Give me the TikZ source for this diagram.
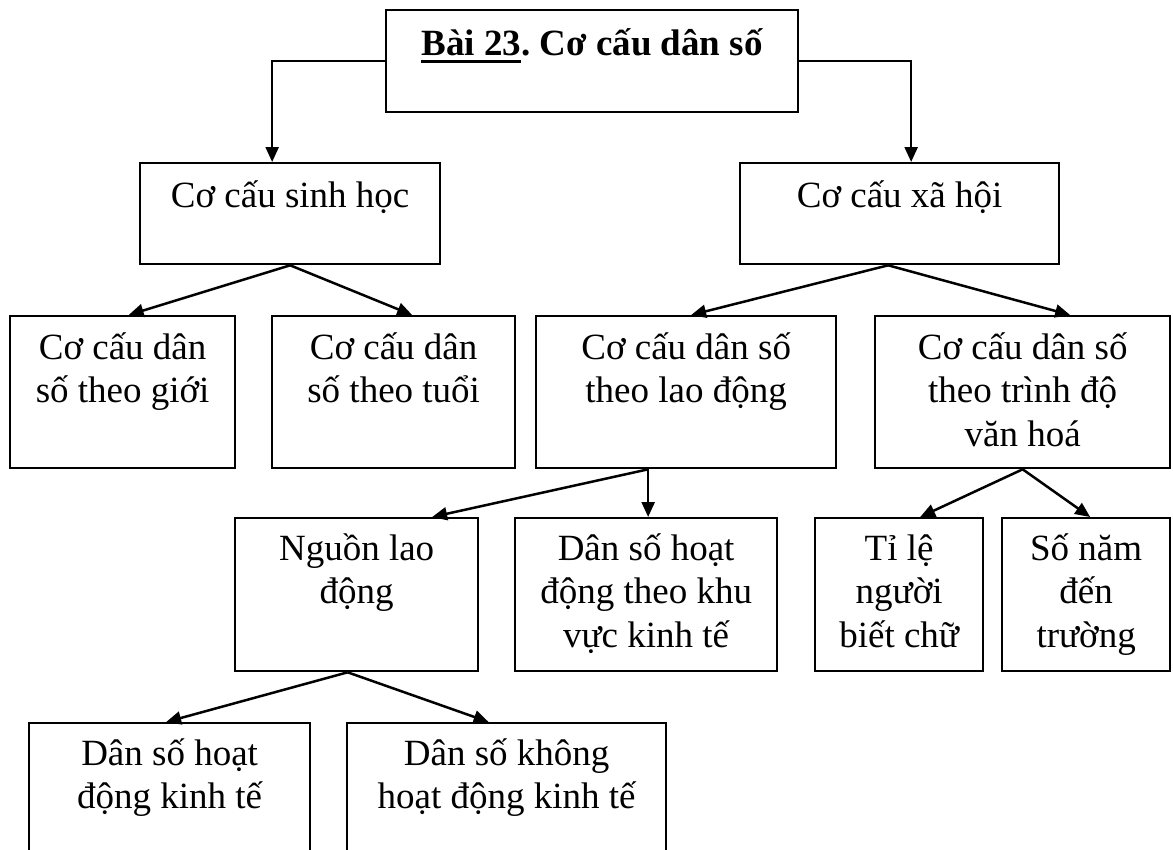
\documentclass[tikz,border=0pt]{standalone}
\usepackage{fontspec}
\setmainfont{Liberation Serif}
\usetikzlibrary{arrows.meta}
\tikzset{
  box/.style={draw, line width=2.3pt, inner sep=0pt, anchor=north west},
  lbl/.style={inner sep=0pt, anchor=north, align=center,
              font=\fontsize{37}{43.5}\selectfont},
  arr/.style={line width=2.5pt, -{Triangle[length=15pt,width=13pt]}},
}
\newcommand{\tl}{\rule{0pt}{38pt}}
% thick underline set a little below the baseline
\newcommand{\thickul}[1]{\setbox0\hbox{#1}\rlap{\rule[-8pt]{\wd0}{3.5pt}}\box0}
\frenchspacing
\begin{document}
\begin{tikzpicture}[x=1pt,y=-1pt]
\useasboundingbox (0,0) rectangle (1173,849);
\clip (0,0) rectangle (1173,849);
% boxes
\node[box, minimum width=412, minimum height=102] (top) at (385,9) {};
\node[box, minimum width=300, minimum height=101] (sh) at (139,162) {};
\node[box, minimum width=319, minimum height=101] (xh) at (739,162) {};
\node[box, minimum width=225, minimum height=152] (gioi) at (9,315) {};
\node[box, minimum width=243, minimum height=152] (tuoi) at (271,315) {};
\node[box, minimum width=300, minimum height=152] (ld) at (535,315) {};
\node[box, minimum width=295, minimum height=152] (vh) at (874,315) {};
\node[box, minimum width=243, minimum height=153] (nguon) at (234,517) {};
\node[box, minimum width=262, minimum height=153] (kv) at (514,517) {};
\node[box, minimum width=168, minimum height=153] (tile) at (814,517) {};
\node[box, minimum width=168, minimum height=153] (sonam) at (1001,517) {};
\node[box, minimum width=281, minimum height=200] (hd) at (28,722) {};
\node[box, minimum width=319, minimum height=200] (khd) at (346,722) {};
% texts
\node[lbl] (ttop) at (top.north |- 0,17) {\tl\textbf{\thickul{Bài 23}. Cơ cấu dân số}};
\node[lbl] (tsh) at (sh.north |- 0,169) {\tl Cơ cấu sinh học};
\node[lbl] (txh) at (xh.north |- 0,169) {\tl Cơ cấu xã hội};
\node[lbl] (tgioi) at (gioi.north |- 0,321) {\tl Cơ cấu dân\\số theo giới};
\node[lbl] (ttuoi) at (tuoi.north |- 0,321) {\tl Cơ cấu dân\\số theo tuổi};
\node[lbl] (tld) at (ld.north |- 0,321) {\tl Cơ cấu dân số\\theo lao động};
\node[lbl] (tvh) at (vh.north |- 0,321) {\tl Cơ cấu dân số\\theo trình độ\\văn hoá};
\node[lbl] (tnguon) at (nguon.north |- 0,522) {\tl Nguồn lao\\động};
\node[lbl] (tkv) at (kv.north |- 0,522) {\tl Dân số hoạt\\động theo khu\\vực kinh tế};
\node[lbl] (ttile) at (tile.north |- 0,522) {\tl Tỉ lệ\\người\\biết chữ};
\node[lbl] (tsonam) at (sonam.north |- 0,522) {\tl Số năm\\đến\\trường};
\node[lbl] (thd) at (hd.north |- 0,727) {\tl Dân số hoạt\\động kinh tế};
\node[lbl] (tkhd) at (khd.north |- 0,727) {\tl Dân số không\\hoạt động kinh tế};
% connectors
\draw[arr] (top.west) -| ([xshift=-18pt]sh.north);
\draw[arr] (top.east) -| ([xshift=11.5pt]xh.north);
\draw[arr] (sh.south) -- ([xshift=6pt]gioi.north);
\draw[arr] (sh.south) -- ([xshift=18.5pt]tuoi.north);
\draw[arr] ([xshift=-11.5pt]xh.south) -- ([xshift=5pt]ld.north);
\draw[arr] ([xshift=-11.5pt]xh.south) -- ([xshift=47.5pt]vh.north);
\draw[arr] ([xshift=-38pt]ld.south) -- ([xshift=75.5pt]nguon.north);
\draw[arr] ([xshift=-38pt]ld.south) -- ([xshift=2pt]kv.north);
\draw[arr] (vh.south) -- ([xshift=21pt]tile.north);
\draw[arr] (vh.south) -- ([xshift=4pt]sonam.north);
\draw[arr] ([xshift=-9pt]nguon.south) -- ([xshift=-3.5pt]hd.north);
\draw[arr] ([xshift=-9pt]nguon.south) -- ([xshift=-18pt]khd.north);
\end{tikzpicture}
\end{document}
